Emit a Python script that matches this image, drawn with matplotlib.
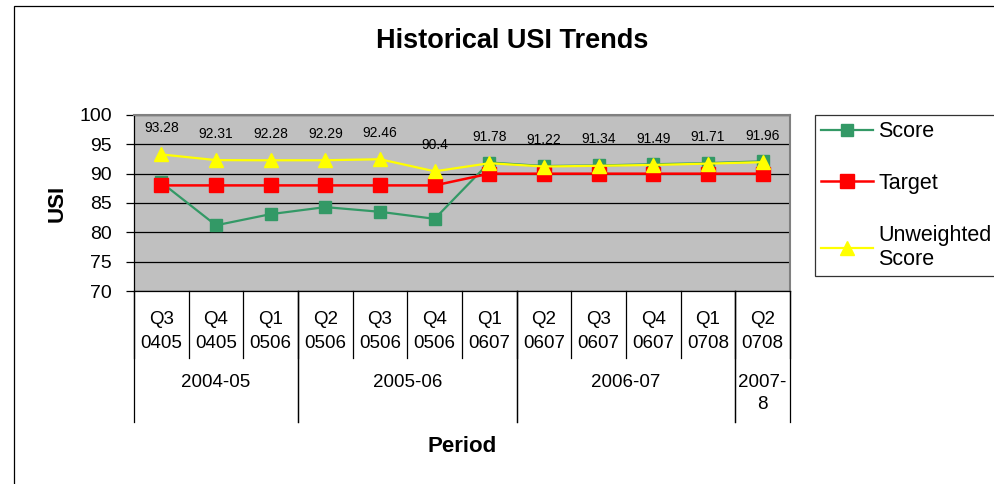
import matplotlib
matplotlib.use("Agg")
import matplotlib.pyplot as plt
from matplotlib.lines import Line2D
from matplotlib.patches import Rectangle

plt.rcParams['font.family'] = ['Liberation Sans', 'DejaVu Sans']

quarters = ["Q3", "Q4", "Q1", "Q2", "Q3", "Q4", "Q1", "Q2", "Q3", "Q4", "Q1", "Q2"]
periods = ["0405", "0405", "0506", "0506", "0506", "0506", "0607", "0607", "0607", "0607", "0708", "0708"]
groups = ["2004-05", "2005-06", "2006-07", "2007-\n8"]
group_spans = [(0, 2), (3, 6), (7, 10), (11, 11)]

score = [88.5, 81.2, 83.1, 84.3, 83.5, 82.3, 91.9, 91.3, 91.4, 91.6, 91.8, 92.1]
target = [88, 88, 88, 88, 88, 88, 90, 90, 90, 90, 90, 90]
unweighted = [93.28, 92.31, 92.28, 92.29, 92.46, 90.4, 91.78, 91.22, 91.34, 91.49, 91.71, 91.96]

W, H = 994, 484
fig = plt.figure(figsize=(W / 100, H / 100), dpi=100)

# chart area border
fig.patches.append(Rectangle((14 / W, -0.2), 1.2, 1.2 - 6 / H, transform=fig.transFigure,
                             fill=False, edgecolor='black', lw=0.9))

ax = fig.add_axes([134 / W, (H - 291) / H, 656 / W, 176 / H])
ax.set_facecolor('#C0C0C0')
x = list(range(len(score)))

ax.plot(x, score, color='#339966', lw=1.6, marker='s', ms=9, mfc='#339966', mec='#339966', label='Score', zorder=3)
ax.plot(x, target, color='#FF0000', lw=1.8, marker='s', ms=9.5, mfc='#FF0000', mec='#FF0000', label='Target', zorder=4)
ax.plot(x, unweighted, color='#FFFF00', lw=1.6, marker='^', ms=10, mfc='#FFFF00', mec='#FFFF00',
        label='Unweighted\nScore', zorder=5)

for i, v in enumerate(unweighted):
    ax.annotate(f"{v:g}", (i, v), xytext=(0, 19), textcoords='offset points', ha='center', va='center',
                fontsize=10, zorder=6)

ax.set_xlim(-0.5, len(score) - 0.5)
ax.set_ylim(70, 100)
ax.set_yticks(range(70, 101, 5))
ax.yaxis.grid(True, color='black', lw=0.9)
ax.set_axisbelow(True)
ax.tick_params(axis='y', labelsize=14, length=6, width=0.9, pad=10, direction='out')
ax.set_xticks([])
for s in ['top', 'right']:
    ax.spines[s].set_color('#808080')
    ax.spines[s].set_linewidth(1.5)
for s in ['left', 'bottom']:
    ax.spines[s].set_color('black')
    ax.spines[s].set_linewidth(0.9)

tr = ax.get_xaxis_transform()
ah = 176.0
def fy(py):
    return -(py - 291) / ah

for i in range(len(score)):
    ax.text(i, fy(320), quarters[i], transform=tr, ha='center', va='center', fontsize=13.5, clip_on=False)
    ax.text(i, fy(344), periods[i], transform=tr, ha='center', va='center', fontsize=13.5, clip_on=False)

for k in range(len(score) + 1):
    ax.add_line(Line2D([k - 0.5, k - 0.5], [0, fy(358)], transform=tr, color='black', lw=0.9, clip_on=False))
for (a, b), g in zip(group_spans, groups):
    ax.add_line(Line2D([a - 0.5, a - 0.5], [0, fy(422)], transform=tr, color='black', lw=0.9, clip_on=False))
    ax.add_line(Line2D([b + 0.5, b + 0.5], [0, fy(422)], transform=tr, color='black', lw=0.9, clip_on=False))
    ax.text((a + b) / 2, fy(374), g, transform=tr, ha='center', va='top', fontsize=13.5,
            linespacing=1.35, clip_on=False)

ax.set_ylabel('USI', fontsize=16, fontweight='bold', labelpad=8)
fig.text(462 / W, 1 - 446 / H, 'Period', ha='center', va='center', fontsize=16, fontweight='bold')
fig.text(512 / W, 1 - 41 / H, 'Historical USI Trends', ha='center', va='center', fontsize=19.5, fontweight='bold')

leg = fig.legend(loc='upper left', bbox_to_anchor=(815 / W, 1 - 115 / H), fontsize=15.5, frameon=True,
                 fancybox=False, edgecolor='black', handlelength=2.4, handletextpad=0.25,
                 labelspacing=1.42, borderpad=0.3, borderaxespad=0)
leg.get_frame().set_linewidth(0.9)

fig.savefig('out.png', dpi=100)
